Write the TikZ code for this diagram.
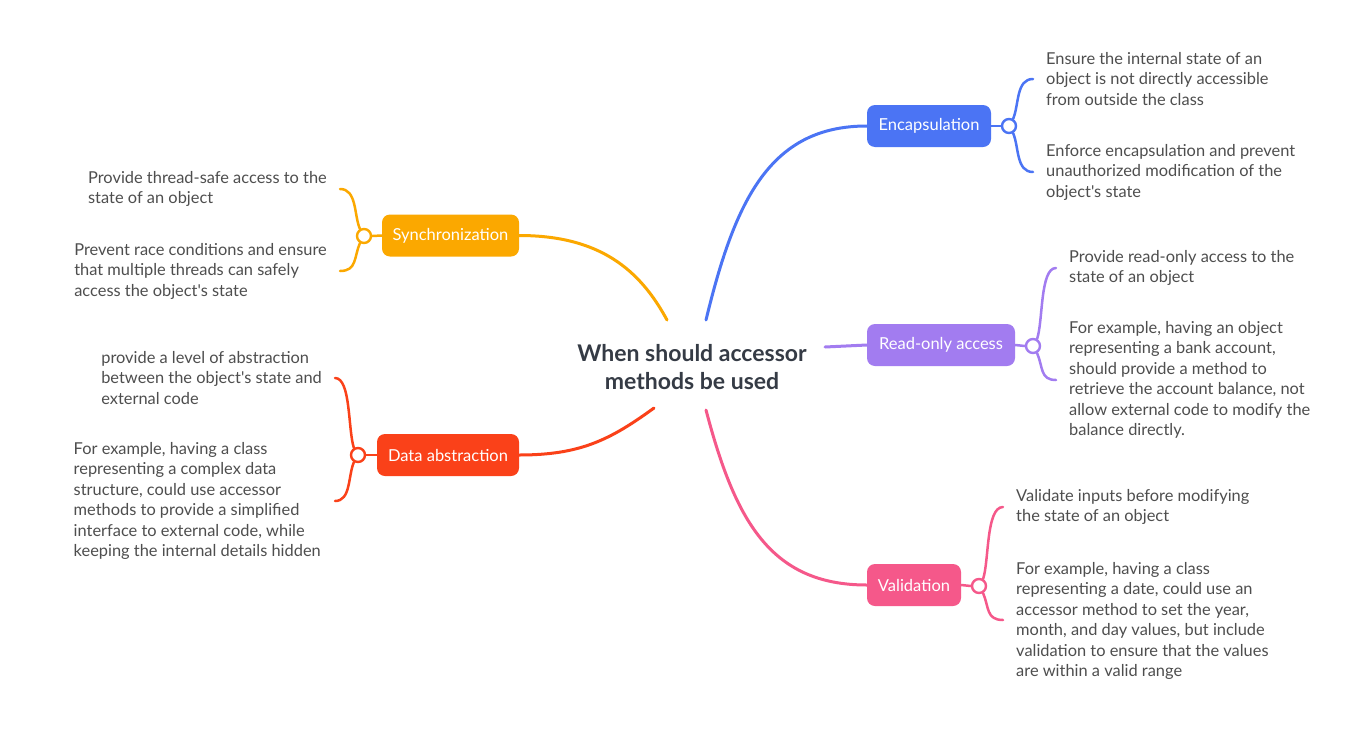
\documentclass[tikz,border=0pt]{standalone}
\usepackage{fontspec}
\setmainfont{Lato}[Ligatures=TeXOff]
\definecolor{cblue}{HTML}{4B74F4}
\definecolor{corange}{HTML}{FBA800}
\definecolor{cpurple}{HTML}{A27CF0}
\definecolor{cred}{HTML}{FA4119}
\definecolor{cpink}{HTML}{F5588A}
\definecolor{textgray}{HTML}{4E4E4E}
\definecolor{titlegray}{HTML}{353B45}
\begin{document}
\begin{tikzpicture}[x=1pt,y=-1pt,
  topic/.style={rounded corners=8pt, minimum height=42pt, inner sep=0pt, text=white, font=\fontsize{16.5}{19}\selectfont},
  knob/.style={circle, draw, fill=white, line width=2.4pt, minimum size=14pt, inner sep=0pt},
  leaf/.style={text=textgray, align=left, inner sep=0pt, font=\fontsize{16.4}{20.5}\selectfont},
  branch/.style={line width=3pt, line cap=round},
  brace/.style={line width=2.5pt, line cap=round}]
\useasboundingbox (0,0) rectangle (1370,734);
\fill[white] (0,0) rectangle (1370,734);

% central topic
\node[text=titlegray, align=center, font=\bfseries\fontsize{23}{28}\selectfont] (root) at (692,367) {When should accessor\\methods be used};
\coordinate (rb) at (706,320);
\coordinate (ro) at (667,320);
\coordinate (rp) at (825,347);
\coordinate (rr) at (654,408);
\coordinate (rk) at (706,410);

% main topics
\node[topic, fill=cblue, minimum width=124pt] (enc) at (929,126) {Encapsulation};
\node[topic, fill=corange, minimum width=137pt] (syn) at (450.5,235.5) {Synchronization};
\node[topic, fill=cpurple, minimum width=148pt] (rea) at (941,345) {Read-only access};
\node[topic, fill=cred, minimum width=142pt] (dat) at (448,455) {Data abstraction};
\node[topic, fill=cpink, minimum width=94pt] (val) at (914,585) {Validation};

% branches from root
\draw[branch, cblue] (rb) .. controls (735,200) and (770,126) .. (enc.west);
\draw[branch, corange] (ro) .. controls (640,270) and (600,235.5) .. (syn.east);
\draw[branch, cpurple] (rp) .. controls (845,346) .. (rea.west);
\draw[branch, cred] (rr) .. controls (610,440) and (580,455) .. (dat.east);
\draw[branch, cpink] (rk) .. controls (735,520) and (770,585) .. (val.west);

% knobs
\node[knob, draw=cblue] (enck) at (1009,126) {};
\node[knob, draw=corange] (synk) at (364,236) {};
\node[knob, draw=cpurple] (reak) at (1033,346) {};
\node[knob, draw=cred] (datk) at (358,455) {};
\node[knob, draw=cpink] (valk) at (979,586) {};
\draw[brace, cblue] (enc.east) -- (enck.west);
\draw[brace, corange] (syn.west) -- (synk.east);
\draw[brace, cpurple] (rea.east) -- (reak.west);
\draw[brace, cred] (dat.west) -- (datk.east);
\draw[brace, cpink] (val.east) -- (valk.west);

% brace end points
\coordinate (e1) at (1033,79);
\coordinate (e2) at (1033,172);
\coordinate (s1) at (340,189);
\coordinate (s2) at (340,271);
\coordinate (r1) at (1056,268);
\coordinate (r2) at (1056,380);
\coordinate (d1) at (335,378);
\coordinate (d2) at (335,501);
\coordinate (v1) at (1003,507);
\coordinate (v2) at (1003,620);

\draw[brace, cblue] (enck.60) .. controls +(6,-14) and +(-17,0) .. (e1);
\draw[brace, cblue] (enck.-60) .. controls +(6,14) and +(-17,0) .. (e2);
\draw[brace, corange] (synk.120) .. controls +(-6,-14) and +(17,0) .. (s1);
\draw[brace, corange] (synk.-120) .. controls +(-6,14) and +(17,0) .. (s2);
\draw[brace, cpurple] (reak.60) .. controls +(6,-18) and +(-16,0) .. (r1);
\draw[brace, cpurple] (reak.-60) .. controls +(6,14) and +(-16,0) .. (r2);
\draw[brace, cred] (datk.120) .. controls +(-6,-18) and +(16,0) .. (d1);
\draw[brace, cred] (datk.-120) .. controls +(-6,14) and +(16,0) .. (d2);
\draw[brace, cpink] (valk.60) .. controls +(6,-18) and +(-17,0) .. (v1);
\draw[brace, cpink] (valk.-60) .. controls +(6,14) and +(-17,0) .. (v2);

% leaves
\node[leaf, anchor=west] (le1) at (1046,79) {Ensure the internal state of an\\object is not directly accessible\\from outside the class};
\node[leaf, anchor=west] (le2) at (1046,172) {Enforce encapsulation and prevent\\unauthorized modification of the\\object's state};
\node[leaf, anchor=east] (ls1) at (327,189) {Provide thread-safe access to the\\state of an object};
\node[leaf, anchor=east] (ls2) at (327,271) {Prevent race conditions and ensure\\that multiple threads can safely\\access the object's state};
\node[leaf, anchor=west] (lr1) at (1069,268) {Provide read-only access to the\\state of an object};
\node[leaf, anchor=west] (lr2) at (1069,380) {For example, having an object\\representing a bank account,\\should provide a method to\\retrieve the account balance, not\\allow external code to modify the\\balance directly.};
\node[leaf, anchor=east] (ld1) at (322,378) {provide a level of abstraction\\between the object's state and\\external code};
\node[leaf, anchor=east] (ld2) at (321,501) {For example, having a class\\representing a complex data\\structure, could use accessor\\methods to provide a simplified\\interface to external code, while\\keeping the internal details hidden};
\node[leaf, anchor=west] (lv1) at (1016,507) {Validate inputs before modifying\\the state of an object};
\node[leaf, anchor=west] (lv2) at (1016,621) {For example, having a class\\representing a date, could use an\\accessor method to set the year,\\month, and day values, but include\\validation to ensure that the values\\are within a valid range};
\end{tikzpicture}
\end{document}
